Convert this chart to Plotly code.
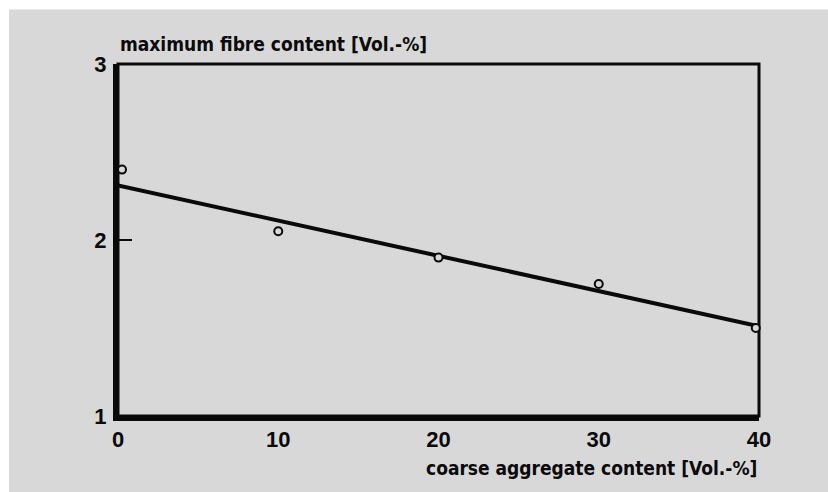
import plotly.graph_objects as go

# Measured maximum fibre content vs. coarse aggregate content
aggregate = [0.25, 10, 20, 30, 39.8]
fibre = [2.40, 2.05, 1.90, 1.75, 1.50]

# Linear trend line end points
trend_x = [0, 40]
trend_y = [2.31, 1.51]

x_ticks = [0, 10, 20, 30, 40]
y_ticks = [1, 2, 3]

x_title = "coarse aggregate content [Vol.-%]"
y_title = "maximum fibre content [Vol.-%]"

BG = "#d8d8d8"
INK = "#0a0a0a"
LABEL_FONT = dict(family="Liberation Sans Narrow, DejaVu Sans Condensed, sans-serif",
                  size=19, color=INK, weight="bold")
TICK_FONT = dict(family="Liberation Sans, Arial, sans-serif", size=22, color=INK, weight="bold")

fig = go.Figure()

fig.add_trace(go.Scatter(
    x=trend_x, y=trend_y, mode="lines",
    line=dict(color=INK, width=4), hoverinfo="skip", showlegend=False,
))
fig.add_trace(go.Scatter(
    x=aggregate, y=fibre, mode="markers",
    marker=dict(symbol="circle", size=8, color=BG, line=dict(color=INK, width=2)),
    showlegend=False, cliponaxis=False,
))

fig.update_layout(
    width=828, height=492,
    margin=dict(l=118, r=69, t=64, b=76),
    paper_bgcolor="white",
    plot_bgcolor="rgba(0,0,0,0)",
    showlegend=False,
    xaxis=dict(
        range=[0, 40], tickvals=x_ticks, ticks="", showgrid=False, zeroline=False,
        showline=True, linecolor=INK, linewidth=5, tickfont=TICK_FONT,
        ticklabelstandoff=0, layer="below traces",
    ),
    yaxis=dict(
        range=[1, 3], tickvals=y_ticks, ticks="inside", ticklen=14, tickwidth=2,
        tickcolor=INK, showgrid=False, zeroline=False,
        showline=True, linecolor=INK, linewidth=5, tickfont=TICK_FONT,
        ticklabelstandoff=2, layer="below traces",
    ),
    shapes=[
        # grey backdrop of the figure
        dict(type="rect", xref="paper", yref="paper",
             x0=-0.170, x1=1.12, y0=-0.23, y1=1.155,
             fillcolor=BG, line=dict(width=0), layer="below"),
        # thin frame on the top and right
        dict(type="rect", xref="paper", yref="paper",
             x0=0, x1=1, y0=0, y1=1,
             line=dict(color=INK, width=3), layer="below"),
    ],
    annotations=[
        dict(text=y_title, xref="paper", yref="paper", x=0, y=1.058,
             xanchor="left", yanchor="middle", showarrow=False, font=LABEL_FONT),
        dict(text=x_title, xref="paper", yref="paper", x=1, y=-0.148,
             xanchor="right", yanchor="middle", showarrow=False, font=LABEL_FONT),
    ],
)

fig.write_html("out.html")
